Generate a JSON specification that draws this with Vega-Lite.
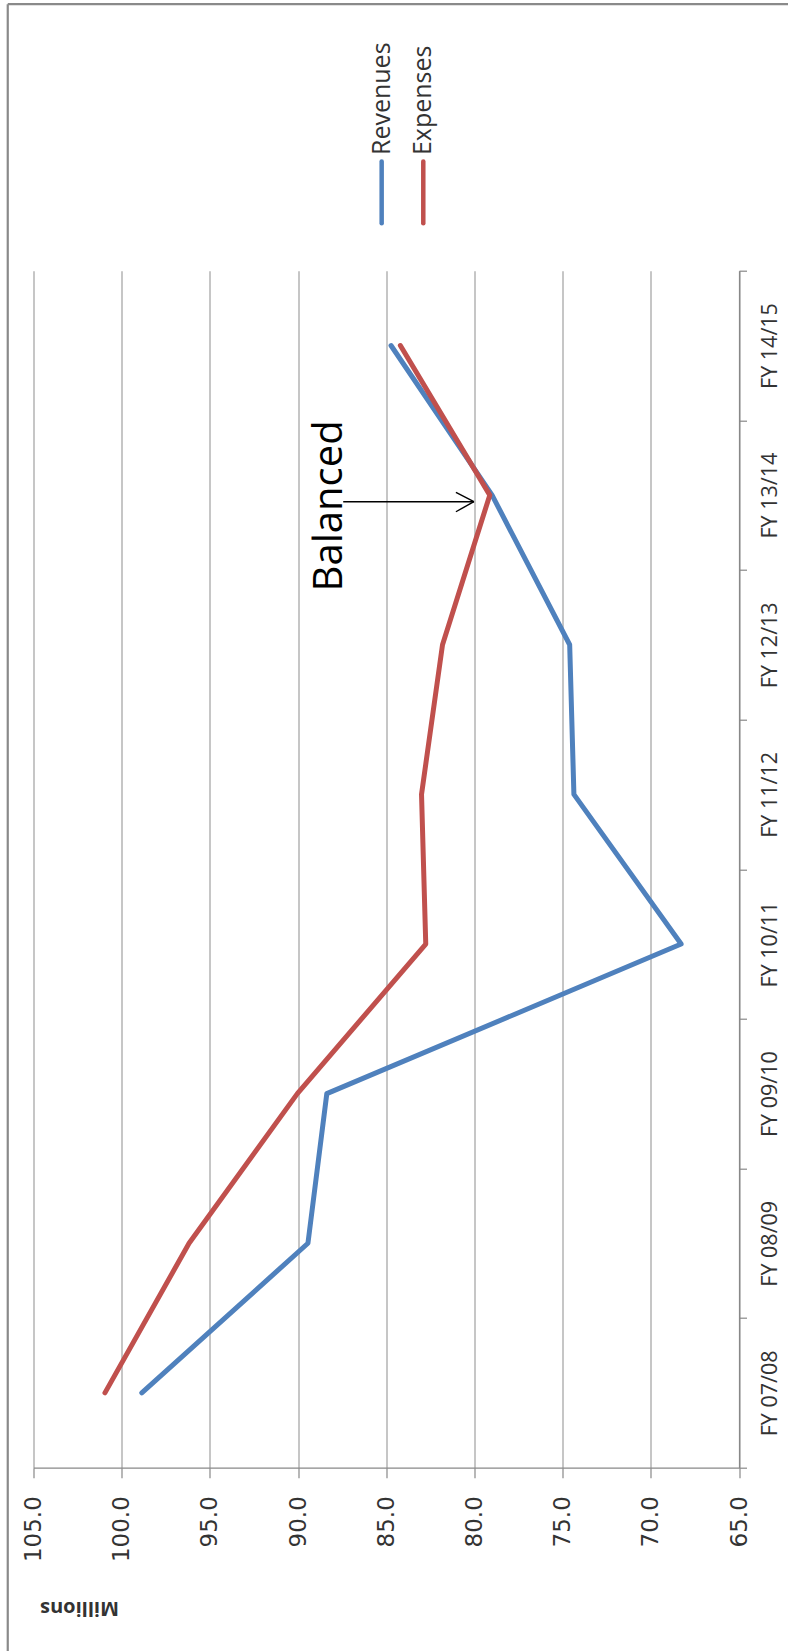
{
  "$schema": "https://vega.github.io/schema/vega-lite/v6.json",
  "width": 705.5,
  "height": 1197,
  "autosize": {"type": "none"},
  "padding": {"left": 33.5, "top": 270.7, "right": 49, "bottom": 183.3},
  "background": "white",
  "config": {"view": {"stroke": null}},
  "layer": [
    {
      "data": {"values": [
        {"year": "FY 07/08", "idx": 0, "series": "Revenues", "value": 98.86},
        {"year": "FY 08/09", "idx": 1, "series": "Revenues", "value": 89.44},
        {"year": "FY 09/10", "idx": 2, "series": "Revenues", "value": 88.37},
        {"year": "FY 10/11", "idx": 3, "series": "Revenues", "value": 68.28},
        {"year": "FY 11/12", "idx": 4, "series": "Revenues", "value": 74.36},
        {"year": "FY 12/13", "idx": 5, "series": "Revenues", "value": 74.6},
        {"year": "FY 13/14", "idx": 6, "series": "Revenues", "value": 79.0},
        {"year": "FY 14/15", "idx": 7, "series": "Revenues", "value": 84.73},
        {"year": "FY 07/08", "idx": 0, "series": "Expenses", "value": 100.95},
        {"year": "FY 08/09", "idx": 1, "series": "Expenses", "value": 96.18},
        {"year": "FY 09/10", "idx": 2, "series": "Expenses", "value": 90.04},
        {"year": "FY 10/11", "idx": 3, "series": "Expenses", "value": 82.76},
        {"year": "FY 11/12", "idx": 4, "series": "Expenses", "value": 83.0},
        {"year": "FY 12/13", "idx": 5, "series": "Expenses", "value": 81.81},
        {"year": "FY 13/14", "idx": 6, "series": "Expenses", "value": 79.13},
        {"year": "FY 14/15", "idx": 7, "series": "Expenses", "value": 84.2}
      ]},
      "mark": {"type": "line", "strokeWidth": 5, "strokeCap": "round", "strokeJoin": "round"},
      "encoding": {
        "x": {"field": "value", "type": "quantitative",
          "scale": {"domain": [65, 105], "reverse": true, "nice": false, "zero": false},
          "axis": {"orient": "bottom", "values": [65, 70, 75, 80, 85, 90, 95, 100, 105], "format": ".1f",
            "labelAngle": -90, "labelAlign": "right", "labelBaseline": "middle", "labelPadding": 18,
            "labelFont": "DejaVu Sans", "labelFontSize": 23, "labelColor": "#333333",
            "tickSize": 10, "tickColor": "#888888", "tickWidth": 1.2,
            "domainColor": "#888888", "domainWidth": 1.2,
            "grid": true, "gridColor": "#a0a0a0", "gridWidth": 1.2,
            "labelOverlap": false, "labelBound": false, "labelFlush": false,
            "title": "Millions", "titleAngle": 180, "titleX": 45.5, "titleY": 140,
            "titleAlign": "center", "titleBaseline": "middle",
            "titleFont": "Open Sans", "titleFontWeight": "bold", "titleFontSize": 20, "titleColor": "#333333"}},
        "y": {"field": "idx", "type": "quantitative",
          "scale": {"domain": [-0.5, 7.5], "nice": false, "zero": false},
          "axis": {"orient": "right", "values": [-0.5, 0.5, 1.5, 2.5, 3.5, 4.5, 5.5, 6.5, 7.5],
            "labelExpr": "datum.value > 7 ? '' : ['FY 07/08','FY 08/09','FY 09/10','FY 10/11','FY 11/12','FY 12/13','FY 13/14','FY 14/15'][datum.value + 0.5]",
            "labelOffset": -74.8, "labelAngle": -90, "labelAlign": "center", "labelBaseline": "top",
            "labelPadding": 13, "labelFont": "Open Sans", "labelFontSize": 21.5, "labelColor": "#333333",
            "labelOverlap": false, "labelBound": false, "labelFlush": false,
            "tickSize": 7.5, "tickColor": "#888888", "tickWidth": 1.2,
            "domainColor": "#888888", "domainWidth": 1.2, "grid": false, "title": null}},
        "color": {"field": "series", "type": "nominal",
          "scale": {"domain": ["Revenues", "Expenses"], "range": ["#4F81BD", "#C0504D"]}, "legend": null},
        "order": {"field": "idx"}
      }
    },
    {
      "data": {"values": [{}]},
      "mark": {"type": "rule", "color": "#8a8a8a", "strokeWidth": 2.2},
      "encoding": {
        "x": {"datum": 106.46, "type": "quantitative"},
        "y": {"datum": 9.281, "type": "quantitative"},
        "y2": {"datum": -1.9}
      }
    },
    {
      "data": {"values": [{}]},
      "mark": {"type": "rule", "color": "#8a8a8a", "strokeWidth": 2.2},
      "encoding": {
        "x": {"datum": 106.46, "type": "quantitative"},
        "x2": {"datum": 61.5},
        "y": {"datum": 9.281, "type": "quantitative"}
      }
    },
    {
      "data": {"values": [{"label": "Revenues"}]},
      "mark": {"type": "text", "angle": -90, "align": "left", "baseline": "middle", "font": "Open Sans", "fontSize": 25, "color": "#333333"},
      "encoding": {
        "x": {"datum": 85.26, "type": "quantitative"},
        "y": {"datum": 8.273, "type": "quantitative"},
        "text": {"field": "label"}
      }
    },
    {
      "data": {"values": [{"label": "Expenses"}]},
      "mark": {"type": "text", "angle": -90, "align": "left", "baseline": "middle", "font": "Open Sans", "fontSize": 25, "color": "#333333"},
      "encoding": {
        "x": {"datum": 82.9, "type": "quantitative"},
        "y": {"datum": 8.273, "type": "quantitative"},
        "text": {"field": "label"}
      }
    },
    {
      "data": {"values": [{}]},
      "mark": {"type": "rule", "color": "#4F81BD", "strokeWidth": 4.5, "strokeCap": "round"},
      "encoding": {
        "x": {"datum": 85.26, "type": "quantitative"},
        "y": {"datum": 8.229, "type": "quantitative"},
        "y2": {"datum": 7.817}
      }
    },
    {
      "data": {"values": [{}]},
      "mark": {"type": "rule", "color": "#C0504D", "strokeWidth": 4.5, "strokeCap": "round"},
      "encoding": {
        "x": {"datum": 82.9, "type": "quantitative"},
        "y": {"datum": 8.229, "type": "quantitative"},
        "y2": {"datum": 7.817}
      }
    },
    {
      "data": {"values": [{"label": "Balanced"}]},
      "mark": {"type": "text", "angle": -90, "align": "center", "baseline": "alphabetic", "font": "Open Sans", "fontSize": 40, "color": "#000000"},
      "encoding": {
        "x": {"datum": 87.53, "type": "quantitative"},
        "y": {"datum": 5.928, "type": "quantitative"},
        "text": {"field": "label"}
      }
    },
    {
      "data": {"values": [{}]},
      "mark": {"type": "rule", "color": "#000000", "strokeWidth": 1.4},
      "encoding": {
        "x": {"datum": 87.44, "type": "quantitative"},
        "x2": {"datum": 80.03},
        "y": {"datum": 5.956, "type": "quantitative"}
      }
    },
    {
      "data": {"values": [{}]},
      "mark": {"type": "rule", "color": "#000000", "strokeWidth": 1.4},
      "encoding": {
        "x": {"datum": 81.05, "type": "quantitative"},
        "x2": {"datum": 80.03},
        "y": {"datum": 6.019, "type": "quantitative"},
        "y2": {"datum": 5.956}
      }
    },
    {
      "data": {"values": [{}]},
      "mark": {"type": "rule", "color": "#000000", "strokeWidth": 1.4},
      "encoding": {
        "x": {"datum": 81.05, "type": "quantitative"},
        "x2": {"datum": 80.03},
        "y": {"datum": 5.889, "type": "quantitative"},
        "y2": {"datum": 5.956}
      }
    }
  ]
}
